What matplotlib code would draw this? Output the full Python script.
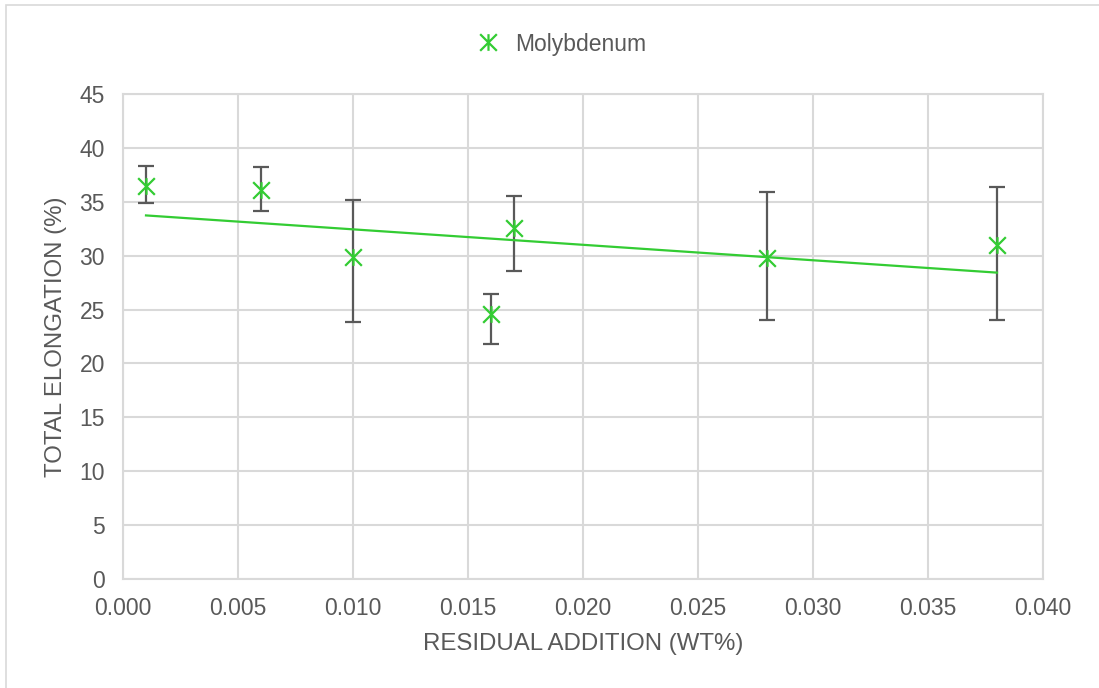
import matplotlib
matplotlib.use("Agg")
import matplotlib.pyplot as plt
import numpy as np
from matplotlib.path import Path
from matplotlib.patches import Rectangle

plt.rcParams['font.family'] = ['Liberation Sans', 'DejaVu Sans']

# Residual molybdenum addition (wt%) vs. total elongation (%)
residual_wt = [0.001, 0.006, 0.010, 0.016, 0.017, 0.028, 0.038]
elongation = [36.5, 36.1, 29.9, 24.6, 32.6, 29.8, 31.0]
err_minus = [1.6, 2.0, 6.1, 2.8, 4.0, 5.8, 7.0]
err_plus = [1.8, 2.1, 5.3, 1.8, 2.9, 6.1, 5.4]

x_ticks = [0.000, 0.005, 0.010, 0.015, 0.020, 0.025, 0.030, 0.035, 0.040]
y_ticks = [0, 5, 10, 15, 20, 25, 30, 35, 40, 45]

GREEN = '#33CC33'
TEXT = '#595959'
GRID = '#D9D9D9'

# six-armed asterisk marker (x with a vertical stroke)
star = Path([(-1, -1), (1, 1), (-1, 1), (1, -1), (0, -1), (0, 1)],
            [Path.MOVETO, Path.LINETO, Path.MOVETO, Path.LINETO, Path.MOVETO, Path.LINETO])

W, H = 1099, 688
fig = plt.figure(figsize=(W / 100, H / 100), dpi=100)
ax = fig.add_axes([123 / W, 1 - 579 / H, 920 / W, 485 / H])

ax.errorbar(residual_wt, elongation, yerr=[err_minus, err_plus], fmt='none',
            ecolor='#595959', elinewidth=1.6, capsize=6, capthick=1.6, zorder=3)

# linear trend line across the data range
coef = np.polyfit(residual_wt, elongation, 1)
xt = np.array([min(residual_wt), max(residual_wt)])
ax.plot(xt, np.polyval(coef, xt), color=GREEN, lw=1.6, zorder=4)

ax.plot(residual_wt, elongation, linestyle='none', marker=star, markersize=12,
        markeredgecolor=GREEN, markerfacecolor='none', markeredgewidth=1.6,
        zorder=5, label='Molybdenum')

ax.set_xlim(0, 0.040)
ax.set_ylim(0, 45)
ax.set_xticks(x_ticks)
ax.set_xticklabels([f'{v:.3f}' for v in x_ticks])
ax.set_yticks(y_ticks)
ax.tick_params(length=0, labelsize=16.5, labelcolor=TEXT)
ax.tick_params(axis='x', pad=13)
ax.tick_params(axis='y', pad=13)
ax.grid(True, color=GRID, lw=1.5)
ax.set_axisbelow(True)
for s in ax.spines.values():
    s.set_color(GRID)
    s.set_linewidth(1.5)

ax.set_xlabel('RESIDUAL ADDITION (WT%)', fontsize=17.3, color=TEXT, labelpad=9)
ax.set_ylabel('TOTAL ELONGATION (%)', fontsize=17.3, color=TEXT, labelpad=9)

fig.legend(loc='center', bbox_to_anchor=(560 / W, 1 - 44 / H), frameon=False,
           fontsize=16.5, labelcolor=TEXT, handlelength=1.2, handletextpad=0.6)

# chart area border
fig.add_artist(Rectangle((6 / W, -0.05), 1.1, 1 - 5.5 / H + 0.05,
                         transform=fig.transFigure, fill=False,
                         edgecolor=GRID, lw=1.2))

fig.savefig('out.png', dpi=100, facecolor='white')
